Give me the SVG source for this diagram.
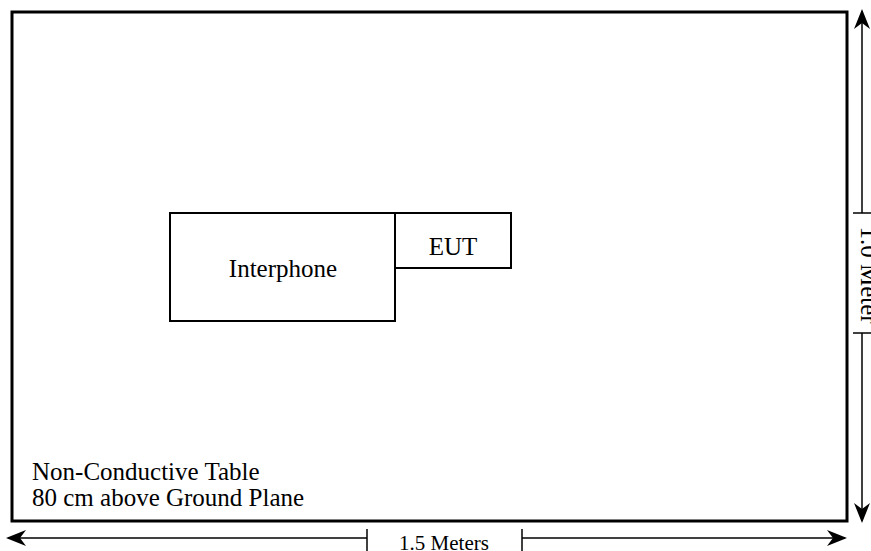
<svg xmlns="http://www.w3.org/2000/svg" width="871" height="551" viewBox="0 0 871 551">
<defs>
<style>
.box{fill:#fff;stroke:#000;stroke-width:2}
.ln{stroke:#000;stroke-width:1.5;fill:none}
.t{font-family:"Liberation Serif","Times New Roman",serif;fill:#000}
</style>
<marker id="ah" viewBox="0 0 20 16" refX="18" refY="8" markerWidth="20" markerHeight="16" markerUnits="userSpaceOnUse" orient="auto">
<path d="M0,0 L20,8 L0,16 L6,8 Z" fill="#000"/>
</marker>
</defs>
<rect width="871" height="551" fill="#fff"/>
<g id="table">
<rect x="12" y="12" width="835" height="509" fill="#fff" stroke="#000" stroke-width="3"/>
<text class="t" x="32" y="480" font-size="25">Non-Conductive Table</text>
<text class="t" x="32" y="506" font-size="25">80 cm above Ground Plane</text>
</g>
<g id="interphone">
<rect class="box" x="170" y="213" width="225" height="108"/>
<text class="t" x="283" y="277" font-size="25" text-anchor="middle">Interphone</text>
</g>
<g id="eut">
<rect class="box" x="395" y="213" width="116" height="55"/>
<text class="t" x="453" y="255" font-size="25" text-anchor="middle">EUT</text>
</g>
<g id="connectors">
<line class="ln" x1="367" y1="538" x2="8" y2="538" marker-end="url(#ah)"/>
<line class="ln" x1="367" y1="529" x2="367" y2="551"/>
<line class="ln" x1="522" y1="538" x2="845" y2="538" marker-end="url(#ah)"/>
<line class="ln" x1="522" y1="529" x2="522" y2="551"/>
<line class="ln" x1="862" y1="213" x2="862" y2="11" marker-end="url(#ah)"/>
<line class="ln" x1="853" y1="213" x2="871" y2="213"/>
<line class="ln" x1="862" y1="333" x2="862" y2="521" marker-end="url(#ah)"/>
<line class="ln" x1="853" y1="333" x2="871" y2="333"/>
</g>
<text class="t" x="444" y="550" font-size="21" text-anchor="middle">1.5 Meters</text>
<text class="t" font-size="25" text-anchor="middle" transform="translate(861,275) rotate(90)">1.0 Meter</text>
</svg>
